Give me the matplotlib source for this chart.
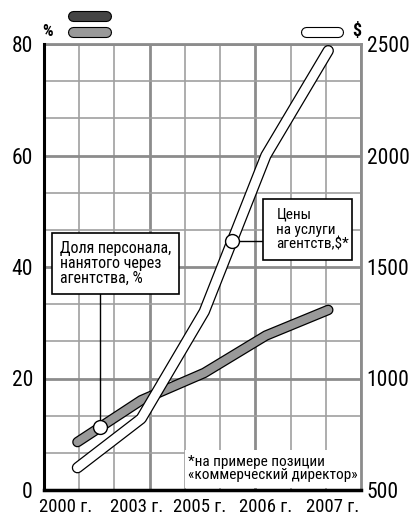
import numpy as np
import matplotlib
matplotlib.use('Agg')
import matplotlib.pyplot as plt
from matplotlib.patches import Rectangle
from matplotlib.lines import Line2D

plt.rcParams['font.family'] = ['Roboto Condensed', 'Roboto', 'DejaVu Sans']

# data
years = ['2000 г.', '2003 г.', '2005 г.', '2006 г.', '2007 г.']
share_pct = [8.6, 16.1, 21.0, 27.7, 32.3]       # доля персонала, %
price_usd = [600, 820, 1300, 2000, 2470]        # цены на услуги, $
left_ticks = [0, 20, 40, 60, 80]
right_ticks = [500, 1000, 1500, 2000, 2500]

x_pos = [0.95, 2.76, 4.55, 6.3, 8.07]           # where points sit in grid units
label_pos = [0.6, 2.64, 4.43, 6.28, 8.2]

fig = plt.figure(figsize=(4.15, 5.27), dpi=100)
ax = fig.add_axes([44/415, 1 - 490/527, 317/415, 446/527])
ax.set_xlim(0, 9)
ax.set_ylim(0, 80)
ax2 = ax.twinx()
ax2.set_ylim(500, 2500)

# grid: 9 columns x 12 rows, every third darker
for i in range(1, 10):
    major = i % 3 == 0
    ax.axvline(i, color='#8c8c8c' if major else '#a0a0a0', lw=2.0 if major else 1.2, zorder=0)
for j in range(1, 13):
    major = j % 3 == 0
    ax.axhline(j * 80 / 12, color='#8c8c8c' if major else '#a0a0a0', lw=2.0 if major else 1.2, zorder=0)

for s in ['top', 'right']:
    ax.spines[s].set_visible(False)
    ax2.spines[s].set_visible(False)
ax2.spines['left'].set_visible(False)
ax2.spines['bottom'].set_visible(False)
ax.spines['left'].set_linewidth(2.2)
ax.spines['bottom'].set_linewidth(2.5)
ax.spines['left'].set_zorder(10)
ax.spines['bottom'].set_zorder(10)

ax.set_yticks(left_ticks)
ax.set_yticklabels([str(v) for v in left_ticks], fontsize=15.5)
ax.tick_params(axis='y', length=0, pad=8)
ax2.set_yticks(right_ticks)
ax2.set_yticklabels([str(v) for v in right_ticks], fontsize=15.5)
ax2.tick_params(axis='y', length=0, pad=4)
ax.set_xticks(label_pos)
ax.set_xticklabels(years, fontsize=13.5)
ax.tick_params(axis='x', length=0, pad=6)

# footnote background
ax.add_patch(Rectangle((4.0, 0.3), 5.0, 6.8, facecolor='white', edgecolor='none', zorder=1))
ax.text(4.08, 3.9, '*на примере позиции\n«коммерческий директор»', fontsize=11,
        va='center', ha='left', linespacing=0.95, zorder=2)

# gray line (share, %)
ax.plot(x_pos, share_pct, color='black', lw=7.6, solid_capstyle='round', solid_joinstyle='round', zorder=3)
ax.plot(x_pos, share_pct, color='#999999', lw=5.8, solid_capstyle='round', solid_joinstyle='round', zorder=3)

# white line (price, $) drawn in left axis via scale conversion
def usd_to_pct(v):
    return (np.asarray(v) - 500) / 2000 * 80

price_pct = usd_to_pct(price_usd)
ax.plot(x_pos, price_pct, color='black', lw=8.2, solid_capstyle='round', solid_joinstyle='round', zorder=4)
ax.plot(x_pos, price_pct, color='white', lw=6.4, solid_capstyle='round', solid_joinstyle='round', zorder=4)

# callout 1
cx1 = 1.59
cy1 = np.interp(cx1, x_pos, share_pct)
ax.plot([cx1, cx1], [cy1, 35.2], color='black', lw=1.0, zorder=5)
ax.add_patch(Rectangle((0.23, 35.2), 3.61, 10.9, facecolor='white', edgecolor='black', lw=1.2, zorder=6))
ax.text(0.45, 40.6, 'Доля персонала,\nнанятого через\nагентства, %', fontsize=11.5,
        va='center', ha='left', linespacing=1.0, zorder=7)

# callout 2
cx2 = 5.34
cy2 = np.interp(cx2, x_pos, price_pct)
ax.plot([cx2, 6.22], [cy2, cy2], color='black', lw=1.0, zorder=5)
ax.add_patch(Rectangle((6.22, 41.3), 2.53, 10.9, facecolor='white', edgecolor='black', lw=1.2, zorder=6))
ax.text(6.6, 46.7, 'Цены\nна услуги\nагентств,$*', fontsize=11,
        va='center', ha='left', linespacing=1.05, zorder=7)

for cx, cy in [(cx1, cy1), (cx2, cy2)]:
    ax.plot(cx, cy, 'o', ms=10, mfc='white', mec='black', mew=1.0, zorder=8)

# right and top border
ax.plot([9, 9], [0, 80], color='#8c8c8c', lw=2.0, zorder=1, clip_on=False)
ax.plot([0, 9], [80, 80], color='#8c8c8c', lw=2.0, zorder=1, clip_on=False)

# legend swatches at top
def swatch(x0, x1, y, color):
    t = fig.transFigure
    fig.add_artist(Line2D([x0/415, x1/415], [1 - y/527] * 2, transform=t, color='black',
                          lw=8.0, solid_capstyle='round'))
    fig.add_artist(Line2D([x0/415, x1/415], [1 - y/527] * 2, transform=t, color=color,
                          lw=6.4, solid_capstyle='round'))

swatch(73, 106, 16, '#444444')
swatch(73, 106, 32, '#999999')
swatch(306, 338, 32, 'white')
fig.text(48/415, 1 - 32/527, '%', fontsize=12, fontweight='bold', ha='center', va='center')
fig.text(357/415, 1 - 31/527, '$', fontsize=13, fontweight='bold', ha='center', va='center')

fig.savefig('out.png', dpi=100)
